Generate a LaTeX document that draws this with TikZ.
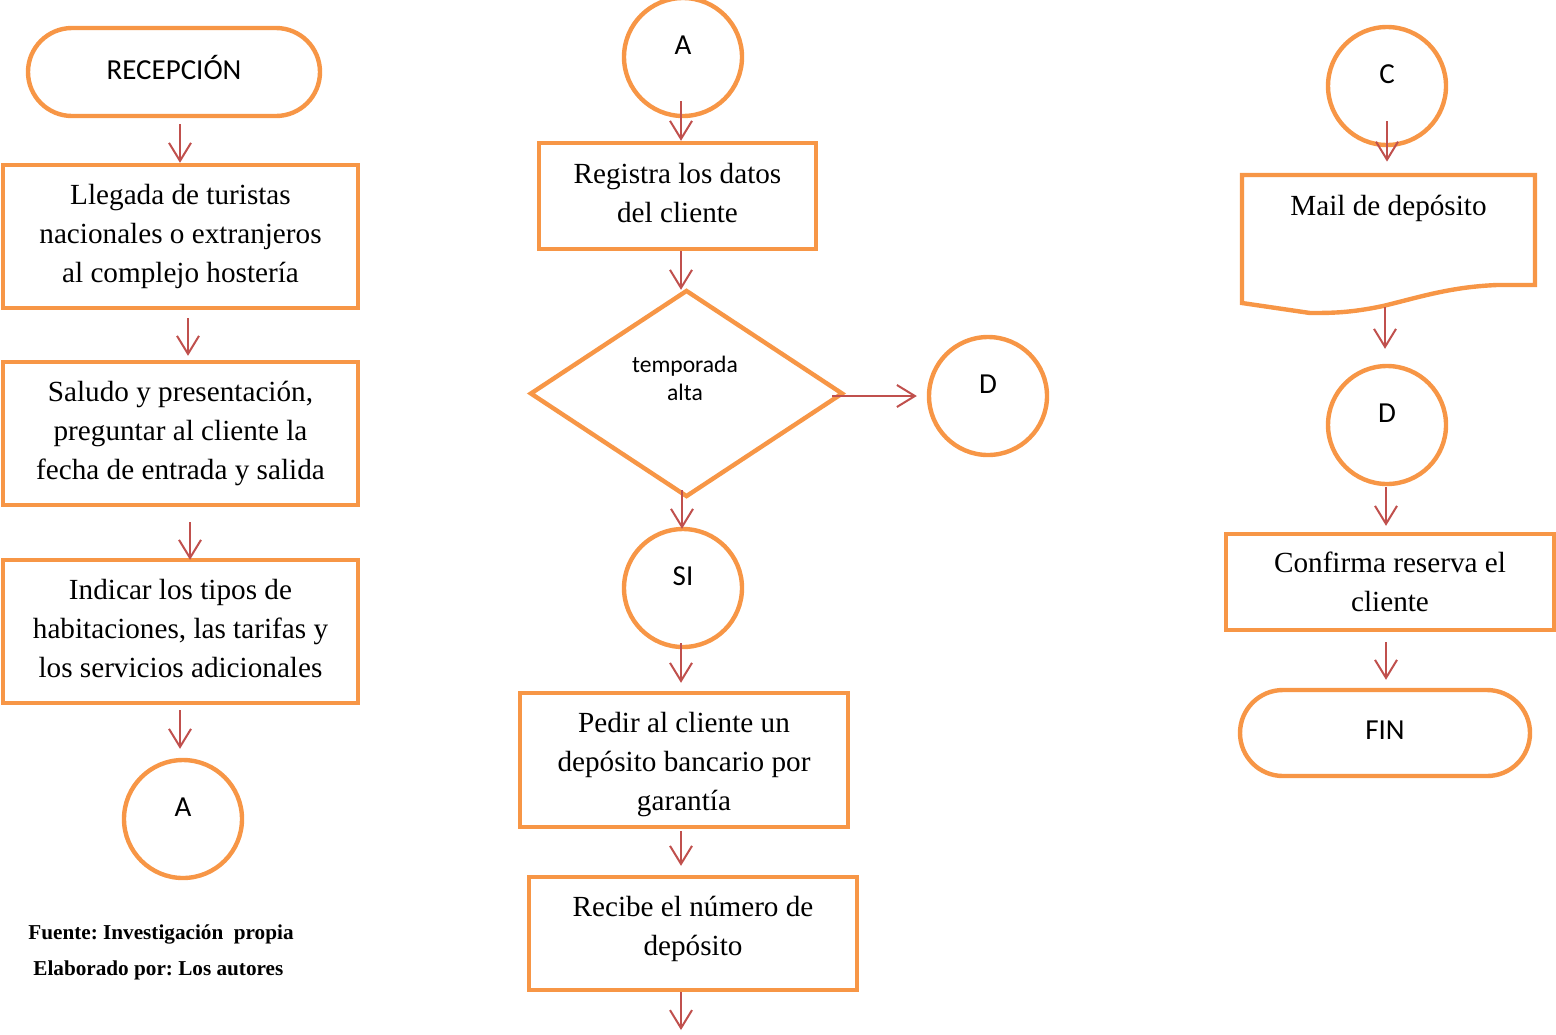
\documentclass[tikz,border=0pt]{standalone}
\usepackage{fontspec}
\setmainfont{Liberation Serif}
\newfontfamily\calib{Carlito}
\usetikzlibrary{arrows.meta,shapes.geometric,shapes.misc}
\definecolor{orng}{HTML}{F79646}
\definecolor{arred}{HTML}{C0504D}
\frenchspacing
\begin{document}
\begin{tikzpicture}[x=0.5pt,y=-0.5pt,
  shp/.style={draw=orng,line width=2.2pt,fill=white,inner sep=0pt},
  btxt/.style={align=center,font=\fontsize{14.6}{19.5}\selectfont},
  boxs/.style={shp,rectangle,btxt},
  term/.style={shp,rounded rectangle},
  conn/.style={shp,circle,minimum size=59pt},
  clab/.style={font=\calib\fontsize{14.5}{17}\selectfont},
  arr/.style={draw=arred,line width=1pt,-{Straight Barb[length=9pt,width=11pt,line width=1pt]}}
]
\useasboundingbox (0,0) rectangle (1556,1034);
% left column
\node[term,minimum width=146pt,minimum height=44pt,label={[clab,yshift=2.5pt]center:RECEPCIÓN}] (rec) at (174,72) {};
\node[boxs,minimum width=177.5pt,minimum height=71.5pt] (b1) at (180.5,236.5) {Llegada de turistas\\nacionales o extranjeros\\al complejo hostería};
\node[boxs,minimum width=177.5pt,minimum height=71.5pt] (b2) at (180.5,433.5) {Saludo y presentación,\\preguntar al cliente la\\fecha de entrada y salida};
\node[shp,minimum width=177.5pt,minimum height=71.5pt,
  label={[btxt,yshift=1.5pt]center:Indicar los tipos de\\habitaciones, las tarifas y\\los servicios adicionales}] (b3) at (180.5,631.5) {};
\node[conn,label={[clab,yshift=6pt]center:A}] (ca1) at (183,819) {};
\node[anchor=west,font=\bfseries\fontsize{10.6}{12}\selectfont,inner sep=0pt] (src) at (28,934) {Fuente: Investigación\ \ propia};
\node[anchor=west,font=\bfseries\fontsize{10.6}{12}\selectfont,inner sep=0pt] (ela) at (33,970) {Elaborado por: Los autores};
% middle column
\node[conn,label={[clab,yshift=6pt]center:A}] (ca2) at (683,57) {};
\node[shp,minimum width=138.5pt,minimum height=53pt,
  label={[btxt,yshift=1.5pt]center:Registra los datos\\del cliente}] (reg) at (677.5,196) {};
\node[shp,diamond,minimum width=156.5pt,minimum height=103.5pt,
  label={[align=center,font=\calib\fontsize{11.8}{14}\selectfont,yshift=7.5pt,xshift=-0.75pt]center:temporada\\alta}] (dia) at (686.5,393.5) {};
\node[conn,label={[clab,yshift=6pt]center:D}] (d1) at (988,396) {};
\node[conn,label={[clab,yshift=6pt]center:SI}] (si) at (683,588) {};
\node[shp,minimum width=164pt,minimum height=67pt,
  label={[btxt,yshift=-2.5pt]center:Pedir al cliente un\\depósito bancario por\\garantía}] (ped) at (684,760) {};
\node[boxs,minimum width=164pt,minimum height=56.5pt,text depth=8pt] (rcb) at (693,933.5) {Recibe el número de\\depósito};
\coordinate (endm) at (681,1030);
% right column
\node[conn,label={[clab,yshift=6pt]center:C}] (cc) at (1387,86) {};
\draw[draw=orng,line width=2.2pt,fill=white] (1242,175) -- (1535,175) -- (1535,285) -- (1497,285)
  .. controls (1450,287) and (1420,297) .. (1383,306)
  .. controls (1350,313) and (1330,313) .. (1310,313) -- (1242,303) -- cycle;
\node[inner sep=0pt,minimum width=146.5pt,minimum height=69pt,
  label={[btxt,yshift=18pt]center:Mail de depósito}] (mail) at (1388.5,244) {};
\node[conn,label={[clab,yshift=6pt]center:D}] (d2) at (1387,425) {};
\node[boxs,minimum width=164pt,minimum height=48pt] (conf) at (1390,582) {Confirma reserva el\\cliente};
\node[term,minimum width=145pt,minimum height=43pt,label={[clab,yshift=1.5pt]center:FIN}] (fin) at (1385,733) {};
% connectors
\draw[arr] ([xshift=3pt,yshift=-3pt]rec.south) -- ([xshift=-0.25pt]b1.north);
\draw[arr] ([xshift=3.75pt,yshift=-4pt]b1.south) -- ([xshift=3.75pt,yshift=2pt]b2.north);
\draw[arr] ([xshift=4.75pt,yshift=-7.5pt]b2.south) -- ([xshift=4.75pt,yshift=-1pt]b3.north);
\draw[arr] ([xshift=-0.25pt,yshift=-2.5pt]b3.south) -- ([xshift=-1.5pt,yshift=4.5pt]ca1.north);
\draw[arr] ([xshift=-1pt,yshift=8.5pt]ca2.south) -- ([xshift=1.75pt]reg.north);
\draw[arr] ([xshift=1.75pt]reg.south) -- ([xshift=-2.75pt,yshift=-1pt]dia.north);
\draw[arr] ([xshift=-6.5pt,yshift=-1.25pt]dia.east) -- ([xshift=-5pt]d1.west);
\draw[arr] ([xshift=-2.25pt,yshift=4.5pt]dia.south) -- ([xshift=-0.5pt,yshift=-1pt]si.north);
\draw[arr] ([xshift=-1pt,yshift=3pt]si.south) -- ([xshift=-1.5pt,yshift=4pt]ped.north);
\draw[arr] ([xshift=-1.5pt,yshift=-1pt]ped.south) -- ([xshift=-6pt,yshift=4.5pt]rcb.north);
\draw[arr] ([xshift=-6pt]rcb.south) -- (endm);
\draw[arr] ([yshift=13pt]cc.south) -- ([xshift=-0.75pt,yshift=6.5pt]mail.north);
\draw[arr] ([xshift=-1.75pt,yshift=3pt]mail.south) -- ([xshift=-1pt,yshift=7.5pt]d2.north);
\draw[arr] ([xshift=-0.5pt,yshift=-0.5pt]d2.south) -- ([xshift=-2pt,yshift=3pt]conf.north);
\draw[arr] ([xshift=-2pt,yshift=-5pt]conf.south) -- ([xshift=0.5pt,yshift=4pt]fin.north);
\end{tikzpicture}
\end{document}
